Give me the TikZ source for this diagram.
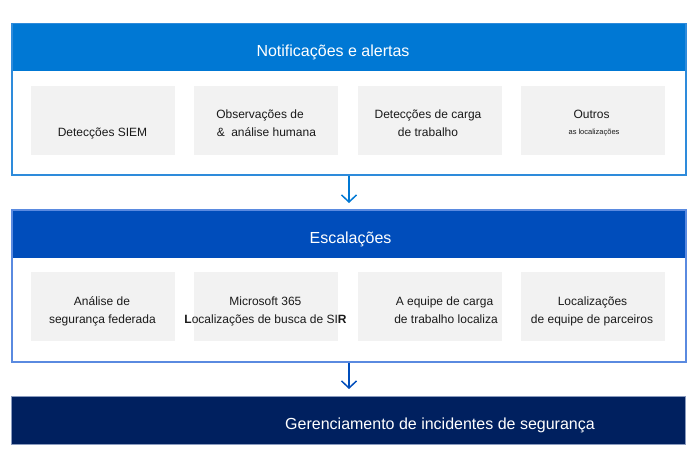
\documentclass[tikz,border=0pt]{standalone}
\usepackage{fontspec}
\setmainfont{Liberation Sans}
\usetikzlibrary{arrows.meta}
\definecolor{hdrA}{HTML}{0078D4}
\definecolor{lineA}{HTML}{2E8BDB}
\definecolor{hdrB}{HTML}{004DBB}
\definecolor{lineB}{HTML}{5A8AE0}
\definecolor{navy}{HTML}{00205F}
\definecolor{navyline}{HTML}{8A9BBE}
\definecolor{cell}{HTML}{F2F2F2}
\definecolor{txt}{HTML}{1A1A1A}
\tikzset{
  frameA/.style={draw=lineA, line width=1.5pt, anchor=north west, inner sep=0pt},
  frameB/.style={draw=lineB, line width=1.5pt, anchor=north west, inner sep=0pt},
  hdr/.style={anchor=north west, inner sep=0pt, minimum width=674pt, minimum height=48pt},
  cellbox/.style={fill=cell, anchor=north west, inner sep=0pt, minimum width=144pt, minimum height=69pt},
  celltxt/.style={anchor=base, inner sep=0pt, font=\fontsize{12}{14}\selectfont, text=txt},
  smalltxt/.style={anchor=base, inner sep=0pt, font=\fontsize{7.5}{9}\selectfont, text=txt},
  hdrtxt/.style={anchor=base, inner sep=0pt, font=\fontsize{16}{19}\selectfont, text=white},
  flow/.style={line width=1.5pt, -{Straight Barb[length=7pt,width=15pt,line width=1.5pt]}},
}
\begin{document}
\begin{tikzpicture}[x=1pt,y=-1pt]
\useasboundingbox (0,0) rectangle (700,465);
% frame 1
\node[hdr, fill=hdrA] (h1) at (11,23) {};
\node[frameA, minimum width=674pt, minimum height=151pt] (f1) at (11,23) {};
\node[hdrtxt] (t1) at (333,57) {Notificações e alertas};
\node[cellbox] (c11) at (30.5,86) {};
\node[cellbox] (c12) at (193.5,86) {};
\node[cellbox] (c13) at (357.5,86) {};
\node[cellbox] (c14) at (520.5,86) {};
\node[celltxt] (l11) at (102.5,136) {Detecções SIEM};
\node[celltxt] (l12a) at (260,119) {Observações de};
\node[celltxt] (l12b) at (266.5,136) {\&\hspace{3pt} análise humana};
\node[celltxt] (l13a) at (428,119) {Detecções de carga};
\node[celltxt] (l13b) at (428,136) {de trabalho};
\node[celltxt] (l14a) at (591.5,119) {Outros};
\node[smalltxt] (l14b) at (594,135) {as localizações};
% frame 2
\node[hdr, fill=hdrB, minimum height=49pt] (h2) at (11,209) {};
\node[frameB, minimum width=674pt, minimum height=152pt] (f2) at (11,209) {};
\node[hdrtxt] (t2) at (350.5,243) {Escalações};
\node[cellbox] (c21) at (30.5,272) {};
\node[cellbox] (c22) at (193.5,272) {};
\node[cellbox] (c23) at (357.5,272) {};
\node[cellbox] (c24) at (520.5,272) {};
\node[celltxt] (l21a) at (102,305) {Análise de};
\node[celltxt] (l21b) at (102.4,323) {segurança federada};
\node[celltxt] (l22a) at (265.4,305) {Microsoft 365};
\node[celltxt] (l22b) at (265.5,323) {\textbf{L}ocalizações de busca de SI\textbf{R}};
\node[celltxt] (l23a) at (444.5,305) {A equipe de carga};
\node[celltxt] (l23b) at (446,323) {de trabalho localiza};
\node[celltxt] (l24a) at (592.5,305) {Localizações};
\node[celltxt] (l24b) at (592,323) {de equipe de parceiros};
% frame 3
\node[fill=navy, draw=navyline, line width=0.6pt, anchor=north west, inner sep=0pt, minimum width=674pt, minimum height=48pt] (f3) at (11,396) {};
\node[hdrtxt] (t3) at (440,429) {Gerenciamento de incidentes de segurança};
% arrows
\draw[flow, draw=hdrA, shorten >=6pt] (f1.south -| 349,0) -- (f2.north -| 349,0);
\draw[flow, draw=hdrB, shorten >=7pt] (f2.south -| 349,0) -- (f3.north -| 349,0);
\end{tikzpicture}
\end{document}
